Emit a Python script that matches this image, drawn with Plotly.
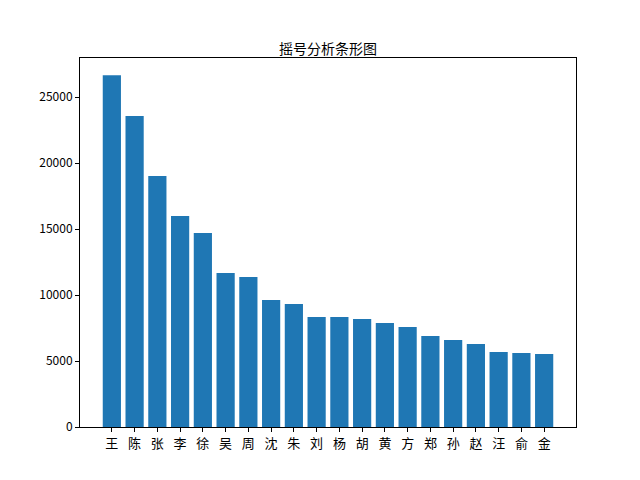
import plotly.graph_objects as go

names = ["王", "陈", "张", "李", "徐", "吴", "周", "沈", "朱", "刘",
         "杨", "胡", "黄", "方", "郑", "孙", "赵", "汪", "俞", "金"]
counts = [26650, 23560, 19020, 15990, 14700, 11670, 11360, 9620, 9320, 8340,
          8330, 8180, 7880, 7580, 6900, 6590, 6290, 5690, 5610, 5540]

FONT = "Noto Sans CJK SC, DejaVu Sans, sans-serif"

fig = go.Figure(go.Bar(
    x=list(range(len(names))), y=counts, width=0.8,
    marker=dict(color="#1f77b4", line=dict(width=0)),
))

line_style = dict(showline=True, linecolor="black", linewidth=1, mirror=True,
                  ticks="outside", ticklen=4, tickcolor="black",
                  showgrid=False, zeroline=False, automargin=False)

fig.update_xaxes(range=[-1.4, 20.4], tickvals=list(range(len(names))),
                 ticktext=names, tickfont=dict(family=FONT, size=13, color="black"),
                 **line_style)
fig.update_yaxes(range=[0, 27960], tickvals=[0, 5000, 10000, 15000, 20000, 25000],
                 tickformat="d", tickfont=dict(family=FONT, size=12, color="black"),
                 **line_style)

# the page body adds an 8px offset, so margins are shifted to compensate
fig.update_layout(
    width=640, height=480,
    margin=dict(l=72, r=72, t=50, b=61),
    paper_bgcolor="white", plot_bgcolor="white",
    title=dict(text="摇号分析条形图", x=0.5, xanchor="center", y=0.925,
               font=dict(family=FONT, size=14, color="black")),
    showlegend=False,
)

fig.write_html("out.html")
